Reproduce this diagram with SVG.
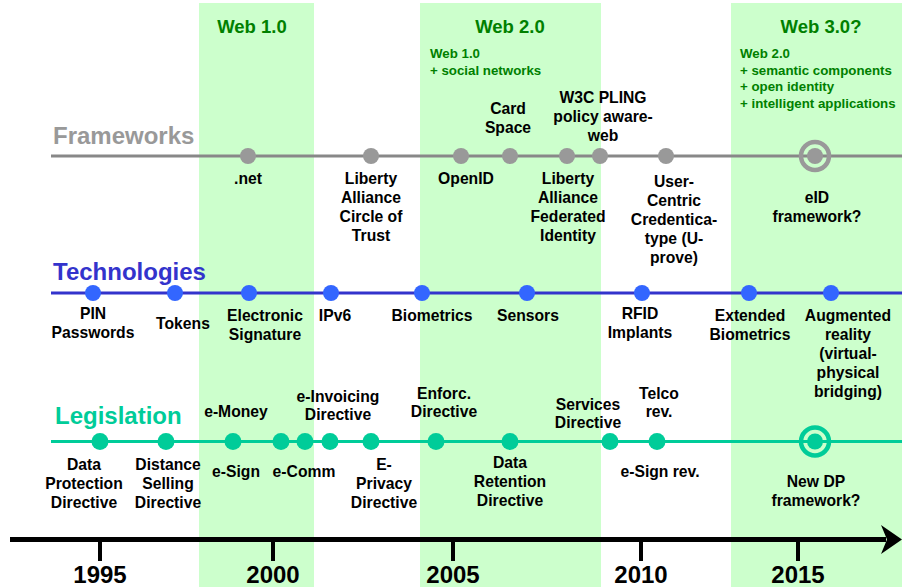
<svg xmlns="http://www.w3.org/2000/svg" width="902" height="587" viewBox="0 0 902 587">
<style>
.band{fill:#CCFFCC}
.t{font-family:"Liberation Sans",Arial,sans-serif;font-weight:bold;font-size:15.7px;fill:#000;text-anchor:middle}
.era{font-family:"Liberation Sans",Arial,sans-serif;font-weight:bold;font-size:18.5px;fill:#008000;text-anchor:middle}
.note{font-family:"Liberation Sans",Arial,sans-serif;font-weight:bold;font-size:13.3px;fill:#008000}
.cat{font-family:"Liberation Sans",Arial,sans-serif;font-weight:bold;font-size:24px}
.yr{font-family:"Liberation Sans",Arial,sans-serif;font-weight:bold;font-size:24px;fill:#000;text-anchor:middle}
.fw{fill:#999999}
.te{fill:#3366FF}
.le{fill:#00CC99}
</style>
<rect width="902" height="587" fill="#fff"/>
<g id="bands">
<rect class="band" x="199" y="3" width="115" height="584"/>
<rect class="band" x="420" y="3" width="181" height="584"/>
<rect class="band" x="731" y="3" width="171" height="584"/>
</g>
<g id="eras">
<text class="era" x="252" y="33">Web 1.0</text>
<text class="era" x="510" y="33">Web 2.0</text>
<text class="era" x="821" y="33">Web 3.0?</text>
<text class="note" x="430" y="58">Web 1.0<tspan x="430" y="75">+ social networks</tspan></text>
<text class="note" x="740" y="58">Web 2.0<tspan x="740" y="75">+ semantic components</tspan><tspan x="740" y="91">+ open identity</tspan><tspan x="740" y="108">+ intelligent applications</tspan></text>
</g>
<g id="connectors">
<line x1="51" y1="156" x2="902" y2="156" stroke="#888888" stroke-width="3"/>
<line x1="51" y1="293" x2="902" y2="293" stroke="#3333CC" stroke-width="3"/>
<line x1="51" y1="441.5" x2="902" y2="441.5" stroke="#00CC99" stroke-width="3"/>
<line x1="10" y1="539.5" x2="886" y2="539.5" stroke="#000" stroke-width="5"/>
<path d="M881 525 L902 539.5 L881 554 L887 539.5 Z" fill="#000"/>
</g>
<g id="categories">
<text class="cat" x="53" y="144" fill="#999999">Frameworks</text>
<text class="cat" x="53" y="280" fill="#3333CC">Technologies</text>
<text class="cat" x="55" y="424" fill="#00CC99">Legislation</text>
</g>
<g id="axis">
<g stroke="#000" stroke-width="4">
<line x1="100" y1="539" x2="100" y2="561"/>
<line x1="273" y1="539" x2="273" y2="561"/>
<line x1="453" y1="539" x2="453" y2="561"/>
<line x1="641" y1="539" x2="641" y2="561"/>
<line x1="798" y1="539" x2="798" y2="561"/>
</g>
<text class="yr" x="100" y="583">1995</text>
<text class="yr" x="273" y="583">2000</text>
<text class="yr" x="453" y="583">2005</text>
<text class="yr" x="641" y="583">2010</text>
<text class="yr" x="798" y="583">2015</text>
</g>
<!-- Frameworks -->
<g id="fw-net"><circle class="fw" cx="248" cy="156" r="8"/><text class="t" x="248" y="184">.net</text></g>
<g id="fw-liberty-cot"><circle class="fw" cx="371" cy="156" r="8"/><text class="t" x="371" y="184">Liberty<tspan x="371" y="203">Alliance</tspan><tspan x="371" y="222">Circle of</tspan><tspan x="371" y="241">Trust</tspan></text></g>
<g id="fw-openid"><circle class="fw" cx="461" cy="156" r="8"/><text class="t" x="466" y="184">OpenID</text></g>
<g id="fw-cardspace"><circle class="fw" cx="510" cy="156" r="8"/><text class="t" x="508" y="114">Card<tspan x="508" y="133">Space</tspan></text></g>
<g id="fw-liberty-fed"><circle class="fw" cx="567" cy="156" r="8"/><text class="t" x="568" y="184">Liberty<tspan x="568" y="203">Alliance</tspan><tspan x="568" y="222">Federated</tspan><tspan x="568" y="241">Identity</tspan></text></g>
<g id="fw-pling"><circle class="fw" cx="600" cy="156" r="8"/><text class="t" x="603" y="103">W3C PLING<tspan x="603" y="122">policy aware-</tspan><tspan x="603" y="141">web</tspan></text></g>
<g id="fw-usercentric"><circle class="fw" cx="666" cy="156" r="8"/><text class="t" x="674" y="187">User-<tspan x="674" y="206">Centric</tspan><tspan x="674" y="225">Credentica-</tspan><tspan x="674" y="244">type (U-</tspan><tspan x="674" y="263">prove)</tspan></text></g>
<g id="fw-eid"><circle cx="815" cy="156" r="14" fill="none" stroke="#999999" stroke-width="4.5"/><circle class="fw" cx="815" cy="156" r="8"/><text class="t" x="817" y="203">eID<tspan x="817" y="222">framework?</tspan></text></g>
<!-- Technologies -->
<g id="te-pin"><circle class="te" cx="93" cy="293" r="8"/><text class="t" x="93" y="319">PIN<tspan x="93" y="338">Passwords</tspan></text></g>
<g id="te-tokens"><circle class="te" cx="175" cy="293" r="8"/><text class="t" x="183" y="329">Tokens</text></g>
<g id="te-esig"><circle class="te" cx="249" cy="293" r="8"/><text class="t" x="265" y="321">Electronic<tspan x="265" y="340">Signature</tspan></text></g>
<g id="te-ipv6"><circle class="te" cx="331" cy="293" r="8"/><text class="t" x="335" y="321">IPv6</text></g>
<g id="te-bio"><circle class="te" cx="422" cy="293" r="8"/><text class="t" x="432" y="321">Biometrics</text></g>
<g id="te-sensors"><circle class="te" cx="527" cy="293" r="8"/><text class="t" x="528" y="321">Sensors</text></g>
<g id="te-rfid"><circle class="te" cx="642" cy="293" r="8"/><text class="t" x="640" y="319">RFID<tspan x="640" y="338">Implants</tspan></text></g>
<g id="te-extbio"><circle class="te" cx="749" cy="293" r="8"/><text class="t" x="750" y="321">Extended<tspan x="750" y="340">Biometrics</tspan></text></g>
<g id="te-ar"><circle class="te" cx="831" cy="293" r="8"/><text class="t" x="848" y="321">Augmented<tspan x="848" y="340">reality</tspan><tspan x="848" y="359">(virtual-</tspan><tspan x="848" y="378">physical</tspan><tspan x="848" y="397">bridging)</tspan></text></g>
<!-- Legislation -->
<g id="le-dpd"><circle class="le" cx="100" cy="441.5" r="8.5"/><text class="t" x="84" y="470">Data<tspan x="84" y="489">Protection</tspan><tspan x="84" y="508">Directive</tspan></text></g>
<g id="le-dsd"><circle class="le" cx="166" cy="441.5" r="8.5"/><text class="t" x="168" y="470">Distance<tspan x="168" y="489">Selling</tspan><tspan x="168" y="508">Directive</tspan></text></g>
<g id="le-emoney-esign"><circle class="le" cx="233" cy="441.5" r="8.5"/><text class="t" x="236" y="417">e-Money</text><text class="t" x="236" y="477">e-Sign</text></g>
<g id="le-ecomm1"><circle class="le" cx="281" cy="441.5" r="8.5"/></g>
<g id="le-ecomm2"><circle class="le" cx="305" cy="441.5" r="8.5"/><text class="t" x="304" y="477">e-Comm</text></g>
<g id="le-einv"><circle class="le" cx="330" cy="441.5" r="8.5"/><text class="t" x="338" y="402">e-Invoicing<tspan x="338" y="420">Directive</tspan></text></g>
<g id="le-eprivacy"><circle class="le" cx="371" cy="441.5" r="8.5"/><text class="t" x="384" y="470">E-<tspan x="384" y="489">Privacy</tspan><tspan x="384" y="508">Directive</tspan></text></g>
<g id="le-enforc"><circle class="le" cx="436" cy="441.5" r="8.5"/><text class="t" x="444" y="399">Enforc.<tspan x="444" y="417">Directive</tspan></text></g>
<g id="le-dataret"><circle class="le" cx="510" cy="441.5" r="8.5"/><text class="t" x="510" y="468">Data<tspan x="510" y="487">Retention</tspan><tspan x="510" y="506">Directive</tspan></text></g>
<g id="le-services"><circle class="le" cx="610" cy="441.5" r="8.5"/><text class="t" x="588" y="410">Services<tspan x="588" y="428">Directive</tspan></text></g>
<g id="le-telco"><circle class="le" cx="657" cy="441.5" r="8.5"/><text class="t" x="659" y="399">Telco<tspan x="659" y="417">rev.</tspan></text><text class="t" x="660" y="477">e-Sign rev.</text></g>
<g id="le-newdp"><circle cx="815" cy="441.5" r="14" fill="none" stroke="#00CC99" stroke-width="4.5"/><circle class="le" cx="815" cy="441.5" r="8"/><text class="t" x="816" y="487">New DP<tspan x="816" y="506">framework?</tspan></text></g>
</svg>
